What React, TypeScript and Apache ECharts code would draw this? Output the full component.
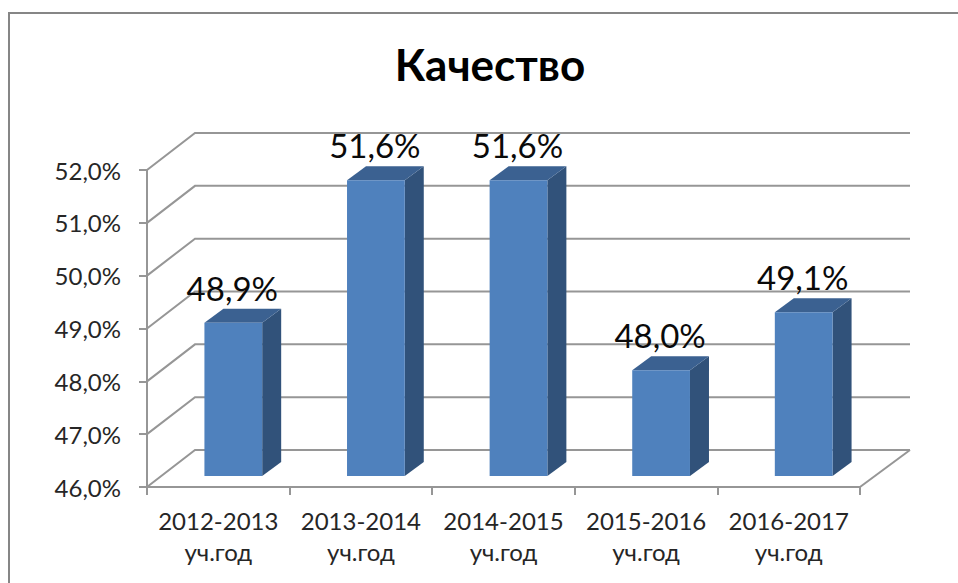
import React, { useEffect, useRef } from "react";
import * as echarts from "echarts";

const titleText = "Качество";
const categories = ["2012-2013\nуч.год", "2013-2014\nуч.год", "2014-2015\nуч.год", "2015-2016\nуч.год", "2016-2017\nуч.год"];
const values = [48.9, 51.6, 51.6, 48.0, 49.1];
const gridValues = [46, 47, 48, 49, 50, 51, 52];

const FONT = "Lato, 'Noto Sans', sans-serif";
const GRID_COLOR = "#969696";
const WALL_DX = 48;
const WALL_DY = -37;

const fmt = (v: number, d: number) => v.toFixed(d).replace(".", ",") + "%";

function renderWall(params: any, api: any) {
  const v = api.value(1);
  const y = api.coord([0, v])[1];
  const cs = params.coordSys;
  const x0 = cs.x;
  const x1 = cs.x + cs.width;
  const style = { stroke: GRID_COLOR, lineWidth: 2, fill: "none" };
  const children: any[] = [
    {
      type: "polyline",
      shape: { points: [[x0, y], [x0 + WALL_DX, y + WALL_DY], [x1 + WALL_DX + 2, y + WALL_DY]] },
      style,
    },
  ];
  if (v === gridValues[0]) {
    children.push({
      type: "polyline",
      shape: { points: [[x1, y], [x1 + WALL_DX + 2, y + WALL_DY]] },
      style,
    });
  }
  return { type: "group", children };
}

function renderBar(_params: any, api: any) {
  const idx = api.value(0);
  const v = api.value(1);
  const band = api.size([1, 0])[0];
  const w = band * 0.405;
  const shiftX = 15;
  const shiftY = -11;
  const dx = 19;
  const dy = -14;
  const top = api.coord([idx, v]);
  const base = api.coord([idx, gridValues[0]]);
  const l = top[0] + shiftX - w / 2;
  const r = l + w;
  const t = top[1] + shiftY;
  const b = base[1] + shiftY;
  return {
    type: "group",
    children: [
      {
        type: "polygon",
        shape: { points: [[r, t], [r + dx, t + dy], [r + dx, b + dy], [r, b]] },
        style: { fill: "#31527A" },
      },
      {
        type: "polygon",
        shape: { points: [[l, t], [l + dx, t + dy], [r + dx, t + dy], [r, t]] },
        style: { fill: "#3B6191" },
      },
      {
        type: "rect",
        shape: { x: l, y: t, width: w, height: b - t },
        style: { fill: "#4F81BD" },
      },
      {
        type: "text",
        x: l + w / 2 - 1,
        y: t - 35,
        style: {
          text: fmt(v, 1),
          fontFamily: FONT,
          fontSize: 33,
          fill: "#0a0a0a",
          align: "center",
          verticalAlign: "middle",
        },
      },
    ],
  };
}

export default function App() {
  const ref = useRef<HTMLDivElement>(null);
  useEffect(() => {
    const chart = echarts.init(ref.current!, null, { renderer: "svg" });
    chart.setOption({
      animation: false,
      backgroundColor: "#ffffff",
      title: {
        text: titleText,
        left: 485,
        top: 37,
        textAlign: "center",
        textStyle: { fontFamily: FONT, fontSize: 44, fontWeight: "bold", color: "#000000" },
      },
      graphic: [
        {
          type: "polyline",
          shape: { points: [[9, 700], [9, 13], [1100, 13]] },
          style: { stroke: "#868686", lineWidth: 2, fill: "none" },
        },
      ],
      grid: { left: 147, right: 98, top: 170, height: 317 },
      xAxis: {
        type: "category",
        data: categories,
        axisLine: { lineStyle: { color: GRID_COLOR, width: 2 } },
        axisTick: { show: true, length: 8, lineStyle: { color: GRID_COLOR, width: 2 } },
        axisLabel: {
          fontFamily: FONT,
          fontSize: 24,
          color: "#262626",
          lineHeight: 31,
          margin: 18,
          interval: 0,
        },
      },
      yAxis: {
        type: "value",
        min: 46,
        max: 52,
        interval: 1,
        axisLine: { show: true, lineStyle: { color: GRID_COLOR, width: 2 } },
        axisTick: { show: true, length: 8, lineStyle: { color: GRID_COLOR, width: 2 } },
        splitLine: { show: false },
        axisLabel: {
          fontFamily: FONT,
          fontSize: 24,
          color: "#262626",
          margin: 26,
          formatter: (v: number) => fmt(v, 1),
        },
      },
      series: [
        {
          type: "custom",
          clip: false,
          silent: true,
          data: gridValues.map((v) => [0, v]),
          renderItem: renderWall,
          z: 1,
        },
        {
          type: "custom",
          clip: false,
          data: values.map((v, i) => [i, v]),
          renderItem: renderBar,
          z: 2,
        },
      ],
    });
    return () => chart.dispose();
  }, []);
  return <div ref={ref} style={{ position: "absolute", left: 0, top: 0, width: 958, height: 583 }} />;
}
